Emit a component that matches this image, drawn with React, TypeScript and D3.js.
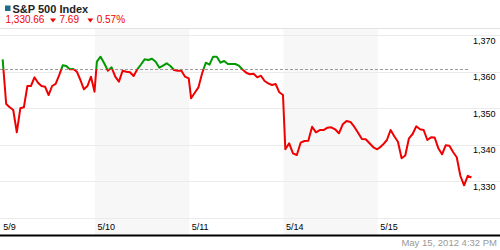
import React from "react";
import * as d3 from "d3";

const days = ["5/9", "5/10", "5/11", "5/14", "5/15"];
const shadedDays = [1, 3];
const yTicks = [1320, 1330, 1340, 1350, 1360, 1370];
const yLabels = [1330, 1340, 1350, 1360, 1370];
const prevClose = 1360.68;

const day0 = [1363.42, 1351.18, 1350.27, 1349.53, 1343.42, 1350.0, 1350.27, 1356.11, 1356.11, 1358.49, 1357.01, 1356.11, 1355.92, 1353.64, 1356.11, 1356.66, 1359.1, 1361.78, 1361.59, 1360.68, 1360.77, 1360.03, 1357.75, 1355.21, 1356.11, 1358.66, 1354.55];
const day1 = [1362.77, 1364.14, 1362.33, 1360.3, 1361.23, 1358.66, 1357.29, 1360.3, 1360.03, 1359.86, 1358.85, 1360.68, 1362.0, 1363.42, 1363.23, 1363.59, 1362.77, 1361.12, 1361.67, 1362.33, 1361.59, 1360.49, 1360.3, 1360.3, 1358.66, 1358.22];
const day2 = [1352.74, 1354.27, 1355.75, 1359.59, 1362.49, 1361.95, 1364.14, 1364.14, 1362.49, 1362.96, 1362.14, 1362.14, 1362.14, 1361.67, 1360.63, 1359.75, 1359.32, 1359.45, 1358.49, 1358.93, 1357.48, 1356.85, 1356.38, 1356.66, 1354.38, 1353.64];
const day3 = [1338.77, 1340.41, 1337.67, 1337.21, 1340.58, 1341.04, 1341.12, 1344.96, 1343.42, 1344.05, 1344.05, 1344.68, 1344.79, 1344.25, 1343.15, 1345.62, 1346.52, 1346.25, 1344.96, 1343.32, 1341.59, 1341.51, 1340.41, 1339.32, 1338.77];
const day4 = [1339.21, 1340.14, 1341.32, 1344.05, 1342.33, 1340.85, 1336.3, 1337.07, 1341.78, 1342.96, 1345.07, 1344.27, 1344.05, 1341.32, 1342.05, 1342.0, 1339.04, 1337.4, 1339.86, 1339.73, 1338.03, 1336.6, 1331.45, 1328.9, 1331.51, 1331.04];
const dayValues = [day0, day1, day2, day3, day4];

const title = "S&P 500 Index";
const lastValue = "1,330.66";
const change = "7.69";
const changePct = "0.57%";
const timestamp = "May 15, 2012 4:32 PM";

const W = 500;
const H = 250;
const FONT = "'Liberation Sans', Arial, sans-serif";

export default function App() {
  const x = d3.scaleLinear().domain([0, 5]).range([0.77, 471.9]);
  const y = d3.scaleLinear().domain([1320, 1370]).range([217.8, 35.3]);

  const pts: [number, number][] = [];
  dayValues.forEach((vals, d) => {
    const n = vals.length;
    vals.forEach((v, k) => {
      const t = d + 0.02 + (k / (n - 1)) * 0.975;
      pts.push([x(t), y(v)]);
    });
  });
  const line = d3.line<[number, number]>().x((p) => p[0]).y((p) => p[1]);
  const path = line(pts) || "";
  const yPrev = y(prevClose);
  const axisY = 235.5;
  const headerY = 28.5;

  const tri = (cx: number) => `M${cx - 3},18.5L${cx + 3},18.5L${cx},22.5Z`;

  return (
    <svg
      width={W}
      height={H}
      style={{ position: "absolute", left: 0, top: 0, background: "#fff", display: "block" }}
      fontFamily={FONT}
    >
      <defs>
        <clipPath id="above">
          <rect x={0} y={0} width={W} height={yPrev} />
        </clipPath>
        <clipPath id="below">
          <rect x={0} y={yPrev} width={W} height={H - yPrev} />
        </clipPath>
      </defs>
      <rect x={0} y={0} width={W} height={H} fill="#fff" />
      {shadedDays.map((d) => (
        <rect key={d} x={x(d)} y={headerY} width={x(d + 1) - x(d)} height={axisY - headerY} fill="#f7f7f7" />
      ))}
      <line x1={0} x2={W} y1={headerY} y2={headerY} stroke="#e2e2e2" />
      {yTicks.map((t) => (
        <line key={t} x1={0} x2={W} y1={Math.round(y(t)) + 0.5} y2={Math.round(y(t)) + 0.5} stroke="#ebebeb" />
      ))}
      <line x1={0} x2={x(5) - 2} y1={Math.round(yPrev) + 0.5} y2={Math.round(yPrev) + 0.5} stroke="#9a9a9a" strokeDasharray="3,2" />
      <path d={path} fill="none" stroke="#009a00" strokeWidth={2} strokeLinejoin="round" clipPath="url(#above)" />
      <path d={path} fill="none" stroke="#f00000" strokeWidth={2} strokeLinejoin="round" clipPath="url(#below)" />
      {yLabels.map((t) => (
        <text key={t} x={473} y={y(t) + 8.5} fontSize={9} fill="#000">
          {d3.format(",")(t)}
        </text>
      ))}
      {days.map((lab, d) => (
        <text key={lab} x={x(d) + 2.5} y={230} fontSize={9} fill="#000">
          {lab}
        </text>
      ))}
      <rect x={0} y={axisY - 1} width={W} height={2} fill="#000" />
      <text x={497} y={245.5} fontSize={9.5} fill="#999" textAnchor="end">
        {timestamp}
      </text>
      <rect x={5} y={5.5} width={5.5} height={5.5} fill="#1d6e87" />
      <text x={12.5} y={13} fontSize={11} fontWeight="bold" fill="#222">
        {title}
      </text>
      <text x={5.5} y={23.3} fontSize={10} fill="#f00000">
        {lastValue}
      </text>
      <path d={tri(53)} fill="#f00000" />
      <text x={59.5} y={23.3} fontSize={10} fill="#f00000">
        {change}
      </text>
      <path d={tri(90.3)} fill="#f00000" />
      <text x={96.7} y={23.3} fontSize={10} fill="#f00000">
        {changePct}
      </text>
    </svg>
  );
}
